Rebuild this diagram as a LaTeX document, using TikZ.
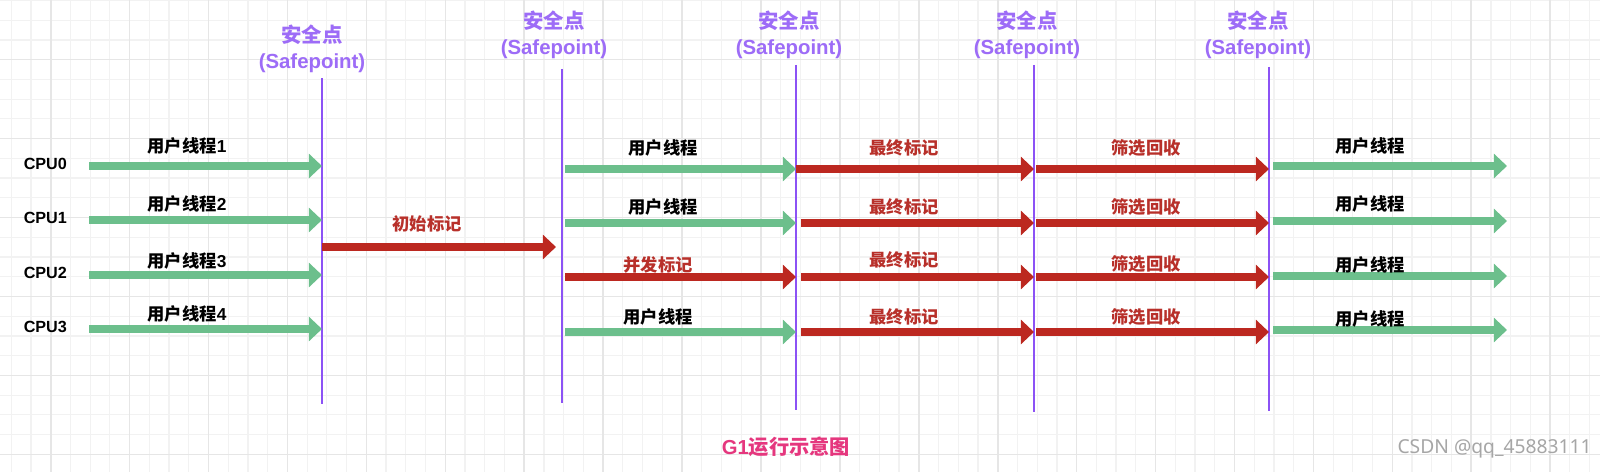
\documentclass[tikz,border=0pt]{standalone}
\usepackage{fontspec}
\setmainfont{Liberation Sans}
\newfontfamily\cjk{Noto Sans CJK SC}
\newfontfamily\marca{Noto Sans}
\usetikzlibrary{arrows.meta}

\definecolor{verde}{HTML}{6CBF8C}
\definecolor{rojo}{HTML}{BC2820}
\definecolor{rojotxt}{HTML}{B8302A}
\definecolor{morado}{HTML}{8C52F5}
\definecolor{rosa}{HTML}{E5377E}
\definecolor{mallamenor}{HTML}{F2F2F2}
\definecolor{mallamayor}{HTML}{E6E6E6}

\tikzset{
  flecha/.style={line width=0.2cm, -{Triangle[width=0.6cm,length=0.33cm]}},
  hilo/.style={flecha, draw=verde},
  gc/.style={flecha, draw=rojo},
  linea/.style={draw=morado, line width=0.05cm},
  etiq/.style={font=\bfseries\fontsize{12.3}{14}\selectfont, inner sep=0pt},
  etiqroja/.style={etiq, text=rojotxt},
  cpu/.style={font=\bfseries\fontsize{11.5}{13}\selectfont, inner sep=0pt, anchor=west},
  seguro/.style={text=morado!85!white, align=center, inner sep=0pt,
    font=\bfseries\fontsize{14.5}{18.5}\selectfont}
}

\begin{document}
\begin{tikzpicture}[x=0.025cm, y=-0.025cm]
        \useasboundingbox (0,0) rectangle (1600,472);
        % Fondo cuadriculado
        \fill[white] (0,0) rectangle (1600,472);
        \foreach \i in {0,...,80}
            \draw[mallamenor, line width=0.03cm] ({11.2+19.73*\i},0) -- ++(0,472);
        \foreach \j in {0,...,23}
            \draw[mallamenor, line width=0.03cm] (0,{0.5+19.73*\j}) -- ++(1600,0);
        \foreach \i in {0,...,19}
            \draw[mallamayor, line width=0.04cm] ({50.7+78.92*\i},0) -- ++(0,472);
        \foreach \j in {0,...,5}
            \draw[mallamayor, line width=0.04cm] (0,{59.7+78.92*\j}) -- ++(1600,0);

        % Puntos seguros
        \node[seguro] (sp1) at (312,48.5) {{\cjk 安全点}\\(Safepoint)};
        \node[seguro] (sp2) at (554,35) {{\cjk 安全点}\\(Safepoint)};
        \node[seguro] (sp3) at (789,35) {{\cjk 安全点}\\(Safepoint)};
        \node[seguro] (sp4) at (1027,35) {{\cjk 安全点}\\(Safepoint)};
        \node[seguro] (sp5) at (1258,35) {{\cjk 安全点}\\(Safepoint)};
        \coordinate (l1a) at (322,78.5);  \coordinate (l1b) at (322,404);
        \coordinate (l2a) at (562,69);    \coordinate (l2b) at (562,403);
        \coordinate (l3a) at (796,65);    \coordinate (l3b) at (796,410);
        \coordinate (l4a) at (1034,65);   \coordinate (l4b) at (1034,412);
        \coordinate (l5a) at (1269,67);   \coordinate (l5b) at (1269,411);
        \foreach \k in {1,...,5}
            \draw[linea] (l\k a) -- (l\k b);

        % CPUs e hilos de usuario
        \foreach \r/\y/\ly [evaluate=\r as \n using int(\r+1)] in {0/166/146,1/220/204,2/275/261,3/329/314} {
            \node[cpu] (cpu\r) at (23.5,\y-2.5) {CPU\r};
            \coordinate (h\r i) at (89,\y);
            \coordinate (h\r f) at (322,\y);
            \draw[hilo] (h\r i) -- (h\r f);
            \node[etiq] (u\r) at (187,\ly) {{\cjk 用户线程}\n};
        }

        % Marcado inicial
        \coordinate (mi) at (322,247);
        \coordinate (mf) at (556,247);
        \draw[gc] (mi) -- (mf);
        \node[etiqroja] (ini) at (427,224) {\cjk 初始标记};

        % Segunda fase
        \coordinate (b0i) at (565,169); \coordinate (b0f) at (796,169);
        \coordinate (b1i) at (565,223); \coordinate (b1f) at (796,223);
        \coordinate (b2i) at (565,277); \coordinate (b2f) at (796,277);
        \coordinate (b3i) at (565,332); \coordinate (b3f) at (796,332);
        \draw[hilo] (b0i) -- (b0f);
        \draw[hilo] (b1i) -- (b1f);
        \draw[gc] (b2i) -- (b2f);
        \draw[hilo] (b3i) -- (b3f);
        \node[etiq] (b0t) at (663,148) {\cjk 用户线程};
        \node[etiq] (b1t) at (663,207) {\cjk 用户线程};
        \node[etiqroja] (b2t) at (658,265) {\cjk 并发标记};
        \node[etiq] (b3t) at (658,317) {\cjk 用户线程};

        % Marcado final y limpieza
        \foreach \r/\y/\xi/\ly/\lz in {0/169/796/148/148,1/223/801/207/207,2/277/801/260/264,3/332/801/317/317} {
            \coordinate (c\r i) at (\xi,\y);
            \coordinate (c\r f) at (1034,\y);
            \coordinate (d\r i) at (1036,\y);
            \coordinate (d\r f) at (1269,\y);
            \draw[gc] (c\r i) -- (c\r f);
            \draw[gc] (d\r i) -- (d\r f);
            \node[etiqroja] (c\r t) at (904,\ly) {\cjk 最终标记};
            \node[etiqroja] (d\r t) at (1146,\lz) {\cjk 筛选回收};
        }

        % Vuelta a los hilos de usuario
        \foreach \r/\y/\ly in {0/166/146,1/221/204,2/276/265,3/330/319} {
            \coordinate (e\r i) at (1273,\y);
            \coordinate (e\r f) at (1507,\y);
            \draw[hilo] (e\r i) -- (e\r f);
            \node[etiq] (e\r t) at (1370,\ly) {\cjk 用户线程};
        }

        % Titulo y marca
        \node[text=rosa, font=\bfseries\fontsize{14.4}{16}\selectfont, inner sep=0pt] (titulo) at (786,447) {G1{\cjk 运行示意图}};
        \node[text=black!35, font=\marca\fontsize{13.7}{16}\selectfont, inner sep=0pt, anchor=east] (marca) at (1592,449) {CSDN @qq\_45883111};
    \end{tikzpicture}
\end{document}
